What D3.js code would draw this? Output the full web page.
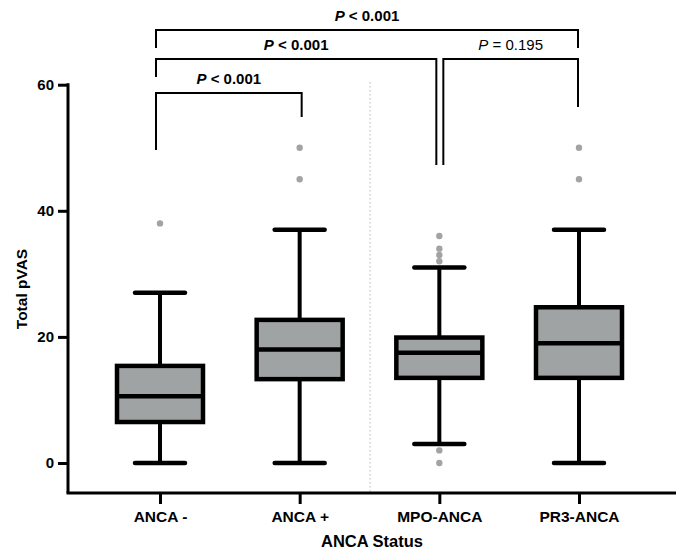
<!DOCTYPE html>
<html>
<head>
<meta charset="utf-8">
<script src="https://cdn.jsdelivr.net/npm/d3@7"></script>
<style>
  html, body { margin: 0; padding: 0; background: #fff; }
  svg { display: block; font-family: "Liberation Sans", Arial, sans-serif; }
</style>
</head>
<body>
<svg id="chart" width="676" height="551"></svg>
<script>
// ---- data ----
const categories = ["ANCA -", "ANCA +", "MPO-ANCA", "PR3-ANCA"];
const whiskerLow  = [0, 0, 3, 0];
const q1          = [6.5, 13.3, 13.5, 13.5];
const medians     = [10.6, 18, 17.5, 19];
const q3          = [15.4, 22.7, 19.9, 24.7];
const whiskerHigh = [27, 37, 31, 37];
const outliers    = [[38], [45, 50], [36, 34, 33, 32, 2, 0], [45, 50]];
const yTicks      = [0, 20, 40, 60];
const comparisons = [
  { a: "ANCA -",   b: "ANCA +",   label: "< 0.001", bold: true },
  { a: "ANCA -",   b: "MPO-ANCA", label: "< 0.001", bold: true },
  { a: "MPO-ANCA", b: "PR3-ANCA", label: "= 0.195", bold: false },
  { a: "ANCA -",   b: "PR3-ANCA", label: "< 0.001", bold: true }
];

// ---- layout ----
const svg = d3.select("#chart");
const axisX = 68, axisBottom = 493;
const x = d3.scalePoint().domain(categories).range([160, 579]);
const y = d3.scaleLinear().domain([0, 60]).range([463, 84.7]);
const boxW = 90, capW = 50;
const fillCol = "#a0a3a3";

// divider
svg.append("line")
  .attr("x1", 370).attr("x2", 370).attr("y1", 82).attr("y2", axisBottom)
  .attr("stroke", "#c4c4c4").attr("stroke-width", 1.2).attr("stroke-dasharray", "1.5,2.5");

// y axis
const yAxis = d3.axisLeft(y).tickValues(yTicks).tickSize(10).tickPadding(4);
const gy = svg.append("g").attr("transform", `translate(${axisX},0)`).call(yAxis);
gy.select(".domain").remove();
gy.selectAll(".tick line").attr("stroke", "#000").attr("stroke-width", 3);
gy.selectAll(".tick text").attr("font-size", 15).attr("font-weight", "bold").attr("fill", "#000")
  .attr("font-family", "Liberation Sans, Arial, sans-serif");
svg.append("line").attr("x1", axisX).attr("x2", axisX).attr("y1", y(60) - 1.5).attr("y2", axisBottom)
  .attr("stroke", "#000").attr("stroke-width", 3);

// x axis
const xAxis = d3.axisBottom(x).tickSize(11).tickPadding(7);
const gx = svg.append("g").attr("transform", `translate(0,${axisBottom})`).call(xAxis);
gx.select(".domain").remove();
gx.selectAll(".tick line").attr("stroke", "#000").attr("stroke-width", 3);
gx.selectAll(".tick text").attr("font-size", 15.5).attr("font-weight", "bold").attr("fill", "#000")
  .attr("font-family", "Liberation Sans, Arial, sans-serif");
svg.append("line").attr("x1", axisX - 1.5).attr("x2", 676).attr("y1", axisBottom).attr("y2", axisBottom)
  .attr("stroke", "#000").attr("stroke-width", 3);

// axis titles
svg.append("text").attr("x", 372).attr("y", 547).attr("text-anchor", "middle")
  .attr("font-size", 16.5).attr("font-weight", "bold").text("ANCA Status");
svg.append("text").attr("transform", `translate(27,289) rotate(-90)`).attr("text-anchor", "middle")
  .attr("font-size", 15.5).attr("font-weight", "bold").text("Total pVAS");

// boxes
const boxes = svg.append("g");
categories.forEach((c, i) => {
  const cx = x(c);
  const g = boxes.append("g");
  g.append("line").attr("x1", cx).attr("x2", cx).attr("y1", y(whiskerHigh[i])).attr("y2", y(q3[i]))
    .attr("stroke", "#000").attr("stroke-width", 4);
  g.append("line").attr("x1", cx).attr("x2", cx).attr("y1", y(q1[i])).attr("y2", y(whiskerLow[i]))
    .attr("stroke", "#000").attr("stroke-width", 4);
  [whiskerHigh[i], whiskerLow[i]].forEach(v => {
    g.append("line").attr("x1", cx - capW / 2).attr("x2", cx + capW / 2).attr("y1", y(v)).attr("y2", y(v))
      .attr("stroke", "#000").attr("stroke-width", 4.5).attr("stroke-linecap", "round");
  });
  g.append("rect").attr("x", cx - boxW / 2 + 2).attr("y", y(q3[i]))
    .attr("width", boxW - 4).attr("height", y(q1[i]) - y(q3[i]))
    .attr("fill", fillCol).attr("stroke", "#000").attr("stroke-width", 4.5);
  g.append("line").attr("x1", cx - boxW / 2 + 2).attr("x2", cx + boxW / 2 - 2)
    .attr("y1", y(medians[i])).attr("y2", y(medians[i]))
    .attr("stroke", "#000").attr("stroke-width", 4.5);
  outliers[i].forEach(v => {
    g.append("circle").attr("cx", cx).attr("cy", y(v)).attr("r", 3.2).attr("fill", "#a3a3a3");
  });
});

// significance brackets
const bracketLevels = [93, 59, 59, 30];
const legEnds = [[150, 117], [77, 165], [165, 107], [48, 48]];
const legOffsets = { "ANCA -": -4, "ANCA +": 2, "PR3-ANCA": -1 };
const brk = svg.append("g");
comparisons.forEach((cmp, k) => {
  let xa = x(cmp.a) + (cmp.a === "MPO-ANCA" ? 4 : legOffsets[cmp.a]);
  let xb = x(cmp.b) + (cmp.b === "MPO-ANCA" ? -3 : legOffsets[cmp.b]);
  const ly = bracketLevels[k];
  brk.append("path")
    .attr("d", `M${xa},${legEnds[k][0]}V${ly}H${xb}V${legEnds[k][1]}`)
    .attr("fill", "none").attr("stroke", "#000").attr("stroke-width", 2);
  const t = brk.append("text").attr("x", (xa + xb) / 2).attr("y", ly - 9)
    .attr("text-anchor", "middle").attr("font-size", 15)
    .attr("font-weight", cmp.bold ? "bold" : "normal").attr("fill", "#000");
  t.append("tspan").attr("font-style", "italic").text("P");
  t.append("tspan").text(" " + cmp.label);
});
</script>
</body>
</html>
